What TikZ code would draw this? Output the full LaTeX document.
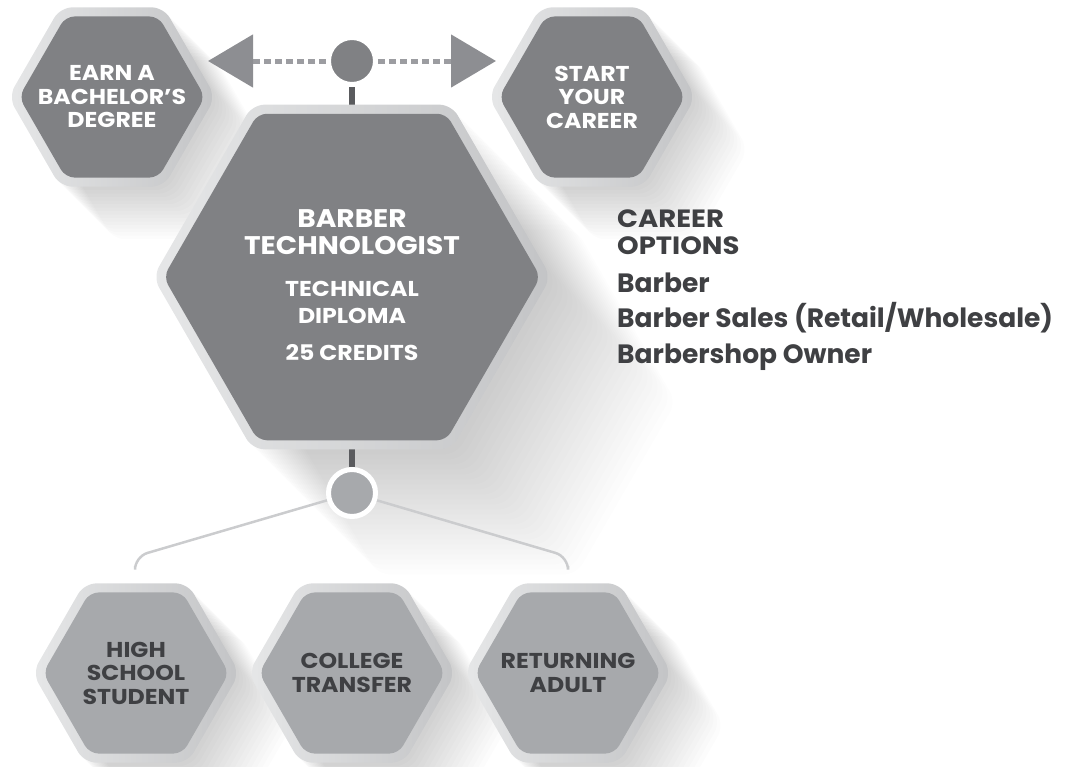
\documentclass[tikz,border=0pt]{standalone}
\usepackage{fontspec}
\setmainfont{Poppins}
\newfontfamily\capsfont{Poppins}[FakeStretch=1.1]
\usetikzlibrary{shapes.geometric,arrows.meta,backgrounds}

\definecolor{hexdark}{HTML}{808184}
\definecolor{hexpale}{HTML}{A7A9AC}
\definecolor{rimleft}{HTML}{E6E7E8}
\definecolor{rimright}{HTML}{C3C4C6}
\definecolor{ink}{HTML}{3F4043}
\definecolor{stemgray}{HTML}{5A5B5E}
\definecolor{twig}{HTML}{CBCCCE}
\definecolor{tipgray}{HTML}{8D8E92}
\definecolor{dotgray}{HTML}{9C9DA1}

\newcommand\titlesize{\capsfont\bfseries\fontsize{25.5}{27}\selectfont}
\newcommand\headsize{\capsfont\bfseries\fontsize{25}{27}\selectfont}

\tikzset{
  hex/.style={regular polygon, regular polygon sides=6, inner sep=-20pt, rounded corners=9pt,
    fill=hexdark, text=white, align=center, font=\capsfont\bfseries\fontsize{21.5}{23.5}\selectfont},
  hexsmall/.style={minimum size=186pt},
  hexbig/.style={minimum size=377pt},
  pale/.style={fill=hexpale, text=ink},
  rim/.style={regular polygon, regular polygon sides=6, inner sep=0pt, rounded corners=12pt,
    left color=rimleft, right color=rimright},
  rimsmall/.style={minimum size=207pt},
  rimbig/.style={minimum size=398pt},
  shade/.style={regular polygon, regular polygon sides=6, inner sep=0pt, rounded corners=12pt,
    fill=black},
  hub/.style={circle, minimum size=47pt, inner sep=0pt, draw=white, line width=5pt, fill=hexdark},
  stem/.style={draw=stemgray, line width=6pt},
  dots/.style={draw=dotgray, line width=5pt, dash pattern=on 7pt off 4pt},
  branch/.style={draw=twig, line width=2.5pt, rounded corners=13pt},
  tip/.style={-{Triangle[width=52pt,length=45pt,color=tipgray]}},
  options/.style={align=left, inner sep=0pt, text=ink, font=\bfseries\fontsize{26.5}{27}\selectfont}
}

\begin{document}
\begin{tikzpicture}[x=1pt,y=-1pt]
  \useasboundingbox (0,0) rectangle (1068,766);
  % hexagons
  \node[hex, hexsmall] (earn) at (112,97) {EARN A\\BACHELOR’S\\DEGREE};
  \node[hex, hexsmall] (start) at (592,97) {START\\YOUR\\CAREER};
  \node[hex, hexbig] (barber) at (352,277) {\titlesize\rule{0pt}{35pt}BARBER\\[3.5pt]\titlesize TECHNOLOGIST\\[18.5pt]
    TECHNICAL\\[3.5pt]DIPLOMA\\[13.5pt]25 CREDITS};
  \node[hex, hexsmall, pale] (school) at (136,673) {HIGH\\SCHOOL\\STUDENT};
  \node[hex, hexsmall, pale] (transfer) at (352,673) {COLLEGE\\TRANSFER};
  \node[hex, hexsmall, pale] (adult) at (568,673) {RETURNING\\ADULT};
  % hubs
  \node[hub] (top) at (352,61) {};
  \node[hub, fill=hexpale] (low) at (352,493) {};
  \coordinate (ltip) at (208,61);
  \coordinate (rtip) at (496,61);
  \coordinate (lknee) at (135,556.6);
  \coordinate (lfoot) at (135,566);
  \coordinate (rknee) at (568,556.6);
  \coordinate (rfoot) at (568,566);
  % career options
  \node[options, anchor=north west] (career) at (617,210)
    {\headsize CAREER\\\headsize OPTIONS\\[11pt]
     Barber\\[8pt]Barber Sales (Retail/Wholesale)\\[8.5pt]Barbershop Owner};

  \begin{pgfonlayer}{background}
    % shadows
    \foreach \n in {earn,start,school,transfer,adult}
      \foreach \k in {1,...,15}
        \node[shade, rimsmall, fill opacity=0.011] (\n-sh\k) at ([shift={(\k*3.5,\k*3.5)}]\n.center) {};
    \foreach \k in {1,...,25}
      \node[shade, rimbig, fill opacity=0.008] (barber-sh\k) at ([shift={(\k*5,\k*5)}]barber.center) {};
    % connectors
    \draw[stem] (top) -- (barber);
    \draw[stem] (barber) -- (low);
    \draw[dots, tip] (top) -- (ltip);
    \draw[dots, tip] (top) -- (rtip);
    \draw[branch] (low.center) -- (lknee) -- (lfoot);
    \draw[branch] (low.center) -- (rknee) -- (rfoot);
    % rims
    \foreach \n in {earn,start,school,transfer,adult}
      \node[rim, rimsmall] (\n-rim) at (\n.center) {};
    \node[rim, rimbig] (barber-rim) at (barber.center) {};
  \end{pgfonlayer}
\end{tikzpicture}
\end{document}
